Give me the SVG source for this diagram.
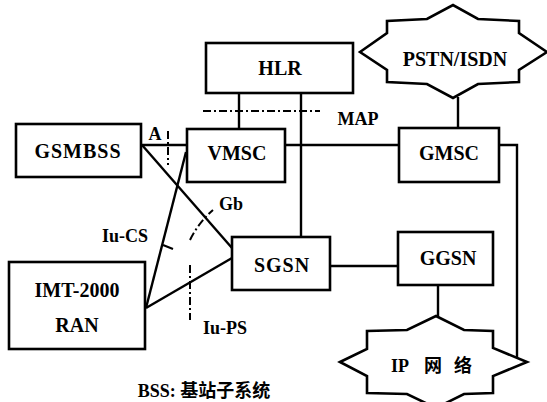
<svg xmlns="http://www.w3.org/2000/svg" width="547" height="402" viewBox="0 0 547 402">
<style>
.box{fill:#fff;stroke:#000;stroke-width:2.6}
.star{fill:#fff;stroke:#000;stroke-width:2.6;stroke-linejoin:miter}
.t{font-family:"Liberation Serif","Noto Sans CJK SC",serif;font-weight:bold;font-size:20px;fill:#000;text-anchor:middle}
.lbl{font-family:"Liberation Serif","Noto Sans CJK SC",serif;font-weight:bold;font-size:18px;fill:#000;text-anchor:middle}
.cjk{font-family:"Liberation Serif","Noto Sans CJK SC",sans-serif;font-weight:bold;font-size:18px;fill:#000}
.ln{stroke:#000;stroke-width:2.4;fill:none}
.dd{stroke:#000;stroke-width:2;fill:none;stroke-dasharray:8 3 2 3}
.sd{stroke:#000;stroke-width:2;fill:none}
</style>
<rect width="547" height="402" fill="#fff"/>
<g id="connectors">
<line class="ln" x1="239" y1="93" x2="239" y2="129"/>
<line class="ln" x1="301" y1="93" x2="301" y2="237"/>
<line class="ln" x1="285" y1="145" x2="399" y2="145"/>
<line class="ln" x1="458" y1="97" x2="458" y2="128"/>
<polyline class="ln" points="499,145 517,145 517,357"/>
<line class="ln" x1="330" y1="266" x2="398" y2="266"/>
<line class="ln" x1="438" y1="285" x2="438" y2="317"/>
<line class="ln" x1="141" y1="145" x2="187" y2="145"/>
<line class="ln" x1="142" y1="145" x2="232" y2="248"/>
<line class="ln" x1="186" y1="152" x2="146" y2="308"/>
<line class="ln" x1="146" y1="308" x2="232" y2="258"/>
<line class="dd" x1="203" y1="111" x2="320" y2="111"/>
<line class="dd" x1="168" y1="131" x2="168" y2="165"/>
<line class="sd" x1="163" y1="245" x2="173" y2="249"/>
<path class="dd" d="M190,240 Q199,222 213,210"/>
<line class="dd" x1="190" y1="265" x2="190" y2="320"/>
</g>
<g id="HLR"><rect class="box" x="206" y="43" width="147" height="50"/><text class="t" x="280" y="75">HLR</text></g>
<g id="PSTN"><polygon class="star" points="360,52 387,33 387,21 427,19 453,5 478,19 519,21 519,33 547,52 519,70 519,82 478,84 453,98 427,84 387,82 387,70"/><text class="t" x="455" y="66">PSTN/ISDN</text></g>
<g id="GSMBSS"><rect class="box" x="16" y="124" width="125" height="53"/><text class="t" x="78" y="158" letter-spacing="1">GSMBSS</text></g>
<g id="VMSC"><rect class="box" x="187" y="129" width="98" height="53"/><text class="t" x="237" y="160">VMSC</text></g>
<g id="GMSC"><rect class="box" x="399" y="128" width="100" height="54"/><text class="t" x="449" y="160">GMSC</text></g>
<g id="SGSN"><rect class="box" x="232" y="237" width="98" height="53"/><text class="t" x="282" y="272" letter-spacing="1">SGSN</text></g>
<g id="GGSN"><rect class="box" x="398" y="232" width="95" height="53"/><text class="t" x="448" y="265">GGSN</text></g>
<g id="IMT2000"><rect class="box" x="9" y="262" width="136" height="87"/><text class="t" x="77" y="297">IMT-2000</text><text class="t" x="77" y="332">RAN</text></g>
<g id="IP"><polygon class="star" points="340,362 367,349 367,331 407,330 436,316 464,330 493,331 493,348 527,362 493,376 493,393 464,394 436,408 407,394 367,393 367,376"/><text class="cjk" y="372"><tspan x="391">IP</tspan><tspan x="424">网</tspan><tspan x="454">络</tspan></text></g>
<g id="labels">
<text class="lbl" x="155" y="140">A</text>
<text class="lbl" x="358" y="125">MAP</text>
<text class="lbl" x="231" y="210">Gb</text>
<text class="lbl" x="125" y="242">Iu-CS</text>
<text class="lbl" x="225" y="334">Iu-PS</text>
<text class="cjk" x="204" y="397" text-anchor="middle" font-size="19">BSS: 基站子系统</text>
</g>
</svg>
